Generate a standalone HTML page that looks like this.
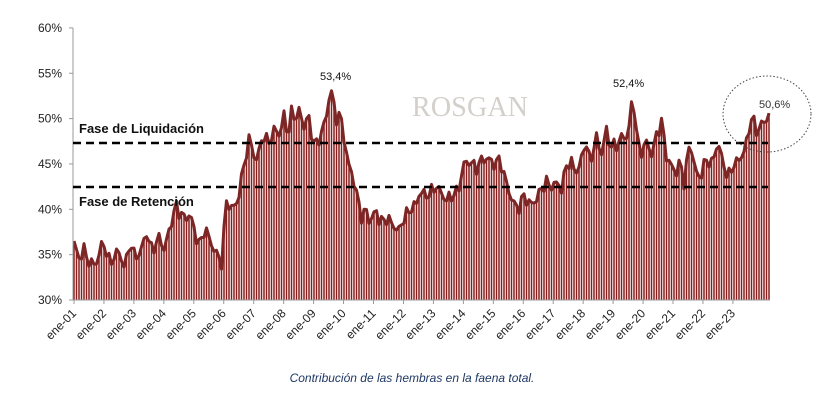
<!DOCTYPE html>
<html><head><meta charset="utf-8"><style>
body{margin:0;background:#fff;width:836px;height:413px;overflow:hidden;font-family:"Liberation Sans",sans-serif}
</style></head><body>
<svg id="s" width="836" height="413" xmlns="http://www.w3.org/2000/svg">
<text x="412" y="116" font-family="Liberation Serif,serif" font-size="28" fill="#d3cfca" textLength="116">ROSGAN</text>
<g id="bars"></g>
<path id="ln" fill="none" stroke="#7d2626" stroke-width="3" stroke-linejoin="round"/>
<line x1="73" y1="28" x2="73" y2="300" stroke="#999"/>
<line x1="73" y1="300" x2="770" y2="300" stroke="#999"/>
<g id="ax" font-size="12" fill="#222"></g>
<line x1="73" y1="143" x2="768" y2="143" stroke="#000" stroke-width="2.5" stroke-dasharray="8,5"/>
<line x1="73" y1="187" x2="768" y2="187" stroke="#000" stroke-width="2.5" stroke-dasharray="8,5"/>
<text x="79" y="133" font-size="13" font-weight="bold" fill="#111">Fase de Liquidación</text>
<text x="79" y="206" font-size="13" font-weight="bold" fill="#111">Fase de Retención</text>
<text x="320" y="80" font-size="11" fill="#111">53,4%</text>
<text x="613" y="87" font-size="11" fill="#111">52,4%</text>
<text x="759" y="108" font-size="11" fill="#333">50,6%</text>
<ellipse cx="767" cy="114" rx="44" ry="38" fill="none" stroke="#444" stroke-dasharray="1.5,2"/>
<text x="412" y="382" text-anchor="middle" font-size="12" font-style="italic" fill="#1f3864">Contribución de las hembras en la faena total.</text>
</svg>
<script>
var P=[[74,36.5],[78,34.5],[84,35.5],[90,34],[96,34],[103,36.5],[110,34],[118,35.5],[125,33.5],[130,36.5],[134,35],[140,35],[146,37.5],[152,35.5],[160,37],[164,35.5],[170,38],[176,40.5],[180,39.5],[186,39],[190,39.5],[196,37],[200,36],[205,38],[212,36],[222,34],[226,41],[232,40],[238,41],[244,45],[250,48],[256,45],[262,48],[268,47.5],[272,48],[276,49],[280,48],[284,50.5],[288,48],[292,51],[296,50],[300,51],[304,49],[308,50.5],[312,48],[316,47],[320,48],[326,50],[331,53.4],[336,50],[340,50.5],[344,48],[348,45],[352,44],[356,42],[362,39],[366,40],[370,38.5],[376,40],[380,38.5],[386,39],[392,38.5],[398,37.5],[404,39],[410,40],[416,40.5],[420,42],[426,41.5],[432,42],[436,42.6],[440,42],[446,41],[452,41.5],[458,42],[464,45],[470,45.3],[476,44.5],[482,45.5],[488,45.6],[494,45],[500,45.5],[506,43],[512,41],[518,40],[524,41.5],[530,40.5],[536,41],[540,42],[546,43],[552,42.5],[558,43],[562,42],[566,45],[572,45],[578,44],[582,46],[586,47.5],[590,45],[596,48],[602,46],[606,49],[610,47],[616,47],[622,48],[628,48],[632,52.4],[636,49],[640,46],[646,47.5],[652,46],[656,48],[662,49.8],[666,46],[670,45],[676,44],[680,45.3],[684,43],[690,47.5],[696,44],[700,43.5],[706,45.5],[712,45],[718,47.5],[722,45.5],[728,43.5],[734,45],[740,45.5],[746,47],[752,50.5],[756,48.5],[762,49.5],[766,49.5],[769,50.6]];
function Y(v){return 300-(v-30)*9.07}
function val(x){for(var i=1;i<P.length;i++){if(x<=P[i][0]){var a=P[i-1],b=P[i];return a[1]+(b[1]-a[1])*(x-a[0])/(b[0]-a[0]);}}return P[P.length-1][1];}
var ns="http://www.w3.org/2000/svg",g=document.getElementById('bars'),d="",i=0;
for(var x=74;x<=769.01;x+=2.5,i++){var w=(x>766||Math.abs(x-331)<3||Math.abs(x-632)<3)?0:0.5*Math.sin(i*1.9)+0.3*Math.sin(i*3.7);var y=Y(val(x)+w);var r=document.createElementNS(ns,'rect');r.setAttribute('x',x-0.75);r.setAttribute('y',y);r.setAttribute('width',1.5);r.setAttribute('height',300-y);r.setAttribute('fill','#8a1c1c');g.appendChild(r);d+=(d?'L':'M')+x.toFixed(1)+','+y.toFixed(1);}
document.getElementById('ln').setAttribute('d',d);
var ax=document.getElementById('ax'),h="";
for(var v=30;v<=60;v+=5){var yy=Y(v);h+='<text x="62" y="'+(yy+4)+'" text-anchor="end">'+v+'%</text><line x1="69" x2="73" y1="'+yy+'" y2="'+yy+'" stroke="#999"/>';}
for(var k=1;k<=23;k++){var xx=74+(k-1)*29.95;var lab='ene-'+(k<10?'0':'')+k;h+='<text transform="translate('+(xx+3)+',314) rotate(-45)" text-anchor="end">'+lab+'</text><line x1="'+xx+'" x2="'+xx+'" y1="300" y2="304" stroke="#999"/>';}
ax.innerHTML=h;
</script>
</body></html>
